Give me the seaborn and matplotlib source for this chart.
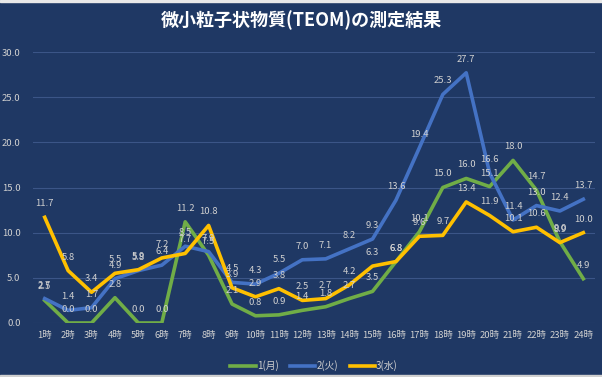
import numpy as np
import pandas as pd
import matplotlib
matplotlib.use("Agg")
import matplotlib.pyplot as plt
import seaborn as sns

hours = [f"{h}時" for h in range(1, 25)]
mon = [2.5, 0.0, 0.0, 2.8, 0.0, 0.0, 11.2, 7.5, 2.1, 0.8, 0.9, 1.4,
       1.8, 2.7, 3.5, 6.8, 10.1, 15.0, 16.0, 15.1, 18.0, 14.7, 9.0, 4.9]
tue = [2.7, 1.4, 1.7, 4.9, 5.8, 6.4, 8.5, 7.9, 4.5, 4.3, 5.5, 7.0,
       7.1, 8.2, 9.3, 13.6, 19.4, 25.3, 27.7, 16.6, 11.4, 13.0, 12.4, 13.7]
wed = [11.7, 5.8, 3.4, 5.5, 5.9, 7.2, 7.7, 10.8, 3.9, 2.9, 3.8, 2.5,
       2.7, 4.2, 6.3, 6.8, 9.6, 9.7, 13.4, 11.9, 10.1, 10.6, 8.9, 10.0]
series_names = ["1(月)", "2(火)", "3(水)"]
colors = ["#70AD47", "#4472C4", "#FFC000"]

BG = "#1F3864"
TXT = "#D0D0D0"

df = pd.DataFrame({"hour": hours * 3,
                   "value": mon + tue + wed,
                   "series": np.repeat(series_names, len(hours))})

plt.rcParams["font.family"] = ["Noto Sans CJK JP", "DejaVu Sans"]

fig = plt.figure(figsize=(6.02, 3.77), dpi=100, facecolor=BG)
ax = fig.add_axes([33 / 602, 1 - 323 / 377, 562 / 602, 271 / 377])
ax.set_facecolor(BG)

sns.lineplot(data=df, x="hour", y="value", hue="series", palette=colors,
             linewidth=2.6, sort=False, ax=ax, legend=True)

# data labels above each point
for vals in [mon, tue, wed]:
    for i, v in enumerate(vals):
        ax.text(i, v + 1.0, f"{v:.1f}", ha="center", va="bottom",
                fontsize=6.8, color=TXT)

ax.set_xlim(-0.5, 23.5)
ax.set_ylim(0, 30)
ax.set_yticks(np.arange(0, 31, 5))
ax.set_yticklabels([f"{t:.1f}" for t in np.arange(0, 31, 5)])
ax.grid(axis="y", color="#3B5587", linewidth=0.8)
ax.set_axisbelow(True)
for s in ax.spines.values():
    s.set_visible(False)
ax.tick_params(axis="both", length=0, colors=TXT, labelsize=6.8)
ax.tick_params(axis="y", pad=9)
ax.tick_params(axis="x", pad=6)
ax.set_xlabel("")
ax.set_ylabel("")

leg = ax.legend(loc="upper center", bbox_to_anchor=(0.5, -0.105), ncol=3,
                frameon=False, fontsize=7, labelcolor=TXT,
                handlelength=2.6, handletextpad=0.1, columnspacing=1.2)
for h in leg.get_lines():
    h.set_linewidth(2.6)

fig.text(0.5, 1 - 20 / 377, "微小粒子状物質(TEOM)の測定結果", ha="center",
         va="center", fontsize=13, fontweight="bold", color="white")

# thin light strips at top/bottom as in the screenshot
fig.patches.append(plt.Rectangle((0, 1 - 2 / 377), 1, 2 / 377,
                                 transform=fig.transFigure, color="#E8E8E8"))
fig.patches.append(plt.Rectangle((0, 0), 1, 2 / 377,
                                 transform=fig.transFigure, color="#D0D0D0"))

fig.savefig("out.png", dpi=100, facecolor=BG)
